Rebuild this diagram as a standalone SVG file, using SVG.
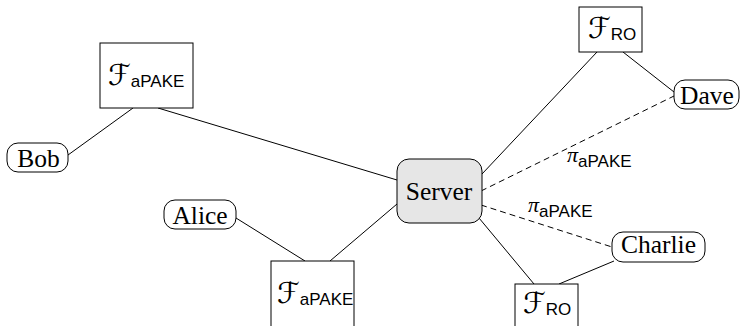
<svg xmlns="http://www.w3.org/2000/svg" width="740" height="326" viewBox="0 0 740 326">
<style>
.box{fill:#fff;stroke:#000;stroke-width:1}
.srv{fill:#e6e6e6;stroke:#000;stroke-width:1}
.ln{stroke:#000;stroke-width:1;fill:none}
.dash{stroke:#000;stroke-width:1;fill:none;stroke-dasharray:6 4}
.rm{font-family:'Liberation Serif','Times New Roman',serif;font-size:25.5px;fill:#000;text-anchor:middle}
.cal{font-family:'DejaVu Serif','DejaVu Sans',serif;font-size:29px}
.sub{font-family:'Liberation Sans',Arial,sans-serif;font-size:17px}
.pi{font-family:'Liberation Serif','Times New Roman',serif;font-style:italic;font-size:22px}
</style>
<rect width="740" height="326" fill="#fff"/>
<g id="connectors">
<line class="ln" x1="68" y1="155" x2="133" y2="108"/>
<line class="ln" x1="158" y1="108" x2="397" y2="180"/>
<line class="ln" x1="236" y1="218" x2="305" y2="261"/>
<line class="ln" x1="330" y1="261" x2="397" y2="204"/>
<line class="ln" x1="482" y1="174" x2="597" y2="52"/>
<line class="ln" x1="623" y1="52" x2="674" y2="92"/>
<line class="ln" x1="479" y1="218" x2="534" y2="284"/>
<line class="ln" x1="559" y1="284" x2="614" y2="261"/>
<line class="dash" x1="481" y1="191" x2="674" y2="96"/>
<line class="dash" x1="481" y1="205" x2="612" y2="247"/>
<text x="567" y="162"><tspan class="pi">π</tspan><tspan class="sub" dy="5">aPAKE</tspan></text>
<text x="528" y="212"><tspan class="pi">π</tspan><tspan class="sub" dy="5">aPAKE</tspan></text>
</g>
<g id="fapake-top">
<rect class="box" x="100" y="43" width="93" height="65"/>
<text x="108" y="85"><tspan class="cal">ℱ</tspan><tspan class="sub" dy="2">aPAKE</tspan></text>
</g>
<g id="bob">
<rect class="box" x="7" y="143" width="61" height="29" rx="11"/>
<text class="rm" x="38.5" y="167">Bob</text>
</g>
<g id="fro-top">
<rect class="box" x="579" y="7" width="63" height="45"/>
<text x="588" y="38"><tspan class="cal">ℱ</tspan><tspan class="sub" dy="2">RO</tspan></text>
</g>
<g id="dave">
<rect class="box" x="674" y="80" width="65" height="29" rx="11"/>
<text class="rm" x="707" y="104">Dave</text>
</g>
<g id="server">
<rect class="srv" x="397" y="159" width="85" height="64" rx="12"/>
<text class="rm" x="439" y="200">Server</text>
</g>
<g id="alice">
<rect class="box" x="164" y="200" width="72" height="29" rx="11"/>
<text class="rm" x="200" y="224">Alice</text>
</g>
<g id="charlie">
<rect class="box" x="612" y="232" width="93" height="30" rx="11"/>
<text class="rm" x="658.5" y="253">Charlie</text>
</g>
<g id="fapake-bottom">
<rect class="box" x="271" y="261" width="83" height="70"/>
<text x="277" y="303"><tspan class="cal">ℱ</tspan><tspan class="sub" dy="2">aPAKE</tspan></text>
</g>
<g id="fro-bottom">
<rect class="box" x="515" y="284" width="63" height="50"/>
<text x="523" y="313"><tspan class="cal">ℱ</tspan><tspan class="sub" dy="2">RO</tspan></text>
</g>
</svg>
